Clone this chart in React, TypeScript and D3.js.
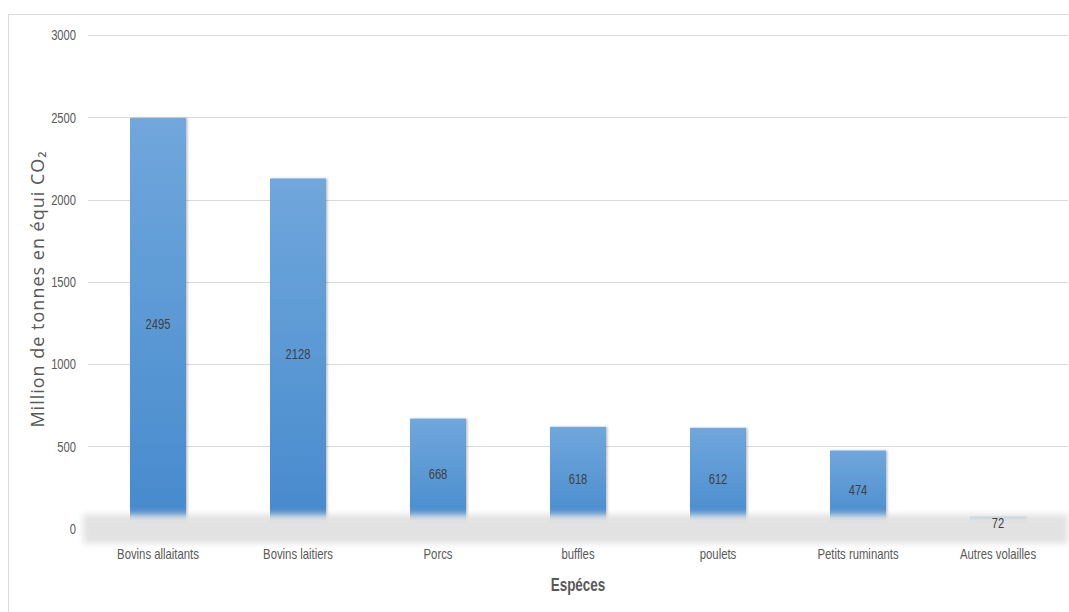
import React from "react";
import * as d3 from "d3";

// Émissions par espèce (millions de tonnes en équivalent CO2)
const categories = [
  "Bovins allaitants",
  "Bovins laitiers",
  "Porcs",
  "buffles",
  "poulets",
  "Petits ruminants",
  "Autres volailles",
];
const values = [2495, 2128, 668, 618, 612, 474, 72];
const yTicks = [0, 500, 1000, 1500, 2000, 2500, 3000];

const W = 1069;
const H = 612;
const margin = { left: 88, right: 1, top: 35, bottom: 83.5 };

const labelFont = "'Liberation Sans', Arial, sans-serif";
const textColor = "#595959";

// Narrow text: regular sans face squeezed horizontally
function Narrow(props: {
  x: number;
  y: number;
  anchor?: string;
  size: number;
  fill?: string;
  bold?: boolean;
  squeeze?: number;
  children: React.ReactNode;
}) {
  const { x, y, anchor = "middle", size, fill = textColor, bold, squeeze = 0.81, children } = props;
  return (
    <text
      transform={`translate(${x},${y}) scale(${squeeze},1)`}
      dy="0.35em"
      textAnchor={anchor}
      fontFamily={labelFont}
      fontSize={size}
      fontWeight={bold ? "bold" : "normal"}
      fill={fill}
    >
      {children}
    </text>
  );
}

export default function App() {
  const x = d3
    .scaleBand<string>()
    .domain(categories)
    .range([margin.left, W - margin.right])
    .paddingInner(0.6)
    .paddingOuter(0.3);
  const y = d3
    .scaleLinear()
    .domain([0, 3000])
    .range([H - margin.bottom, margin.top]);

  const floorY = y(0) - 14;

  return (
    <svg
      width={W}
      height={H}
      style={{ position: "absolute", left: 0, top: 0, background: "#fff" }}
    >
      <defs>
        <linearGradient id="barFill" x1="0" y1="0" x2="0" y2="1">
          <stop offset="0%" stopColor="#70a7dc" />
          <stop offset="100%" stopColor="#468acd" />
        </linearGradient>
        <filter id="barShadow" x="-20%" y="-5%" width="140%" height="110%">
          <feDropShadow dx="1.5" dy="0" stdDeviation="1.2" floodColor="#000" floodOpacity="0.25" />
        </filter>
        <filter id="floorBlur" x="-5%" y="-60%" width="110%" height="220%">
          <feGaussianBlur stdDeviation="3" />
        </filter>
      </defs>

      {/* chart frame */}
      <line x1={8.5} x2={8.5} y1={14} y2={H} stroke="#d9d9d9" />
      <line x1={8} x2={W} y1={14.5} y2={14.5} stroke="#d9d9d9" />

      {/* gridlines and tick labels */}
      {yTicks.map((t) => (
        <g key={t}>
          {t > 0 && (
            <line
              x1={margin.left}
              x2={W - margin.right}
              y1={Math.round(y(t)) + 0.5}
              y2={Math.round(y(t)) + 0.5}
              stroke="#d9d9d9"
            />
          )}
          <Narrow x={76} y={y(t) + 0.5} anchor="end" size={14} squeeze={0.8}>
            {t}
          </Narrow>
        </g>
      ))}

      {/* bars */}
      {categories.map((c, i) => (
        <rect
          key={c}
          x={x(c)}
          y={y(values[i])}
          width={x.bandwidth()}
          height={y(0) - y(values[i])}
          fill="url(#barFill)"
          filter="url(#barShadow)"
        />
      ))}

      {/* floor band */}
      <rect
        x={margin.left - 5}
        y={floorY}
        width={W - margin.right - margin.left + 5}
        height={29}
        fill="#e2e2e2"
        filter="url(#floorBlur)"
      />

      {/* value labels */}
      {categories.map((c, i) => (
        <Narrow
          key={c}
          x={(x(c) as number) + x.bandwidth() / 2}
          y={(y(values[i]) + y(0)) / 2 + 1}
          size={14}
          squeeze={0.8}
          fill="#404040"
        >
          {values[i]}
        </Narrow>
      ))}

      {/* category labels */}
      {categories.map((c) => (
        <Narrow key={c} x={(x(c) as number) + x.bandwidth() / 2} y={554} size={14}>
          {c}
        </Narrow>
      ))}

      {/* axis titles */}
      <Narrow x={(margin.left + W - margin.right) / 2} y={585} size={17.5} bold squeeze={0.77}>
        Espéces
      </Narrow>
      <text
        transform={`translate(38, 289) rotate(-90)`}
        dy="0.35em"
        textAnchor="middle"
        fontFamily="'Open Sans', sans-serif"
        fontSize={18}
        letterSpacing={1}
        fill={textColor}
      >
        Million de tonnes en équi CO₂
      </text>
    </svg>
  );
}
